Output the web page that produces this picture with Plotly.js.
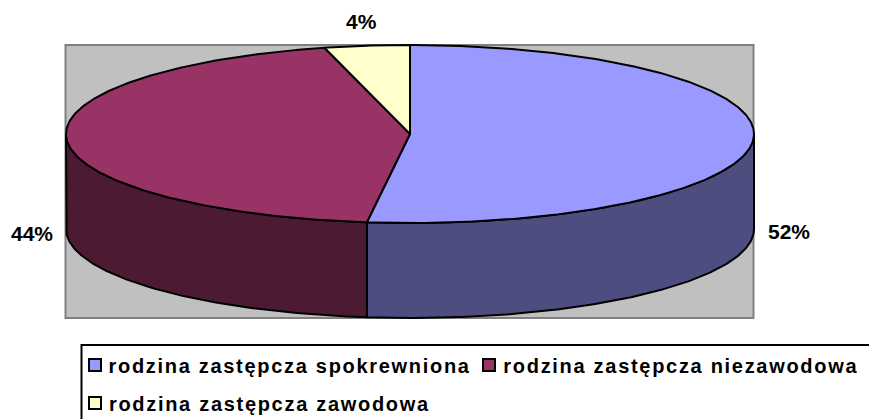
<!DOCTYPE html>
<html><head><meta charset="utf-8">
<script src="https://cdn.plot.ly/plotly-3.0.1.min.js"></script>
<style>html,body{margin:0;padding:0;background:#fff;overflow:hidden}
.annotation[data-index="3"] .annotation-text,.annotation[data-index="4"] .annotation-text,.annotation[data-index="5"] .annotation-text{letter-spacing:1.7px}
</style></head><body><div id="c" style="width:869px;height:419px"></div>
<script>
const categories=["rodzina zastępcza spokrewniona","rodzina zastępcza niezawodowa","rodzina zastępcza zawodowa"];
const values=[52,44,4];
const topColors=["#9999FF","#993366","#FFFFCC"];
const wallColors=["#4D4D80","#4D1A33","#80806A"];
const percentLabels=["52%","44%","4%"];
const labelX=[789,32,361];
const labelY=[231,233,21];
const swatchX=[89,483,89];
const swatchY=[365,365,403];
const legendTextX=[290,681,269.5];
const legendTextY=[366,366,404];
const cx=410,cy=134,rx=344,ry=89,depth=95;
const total=values.reduce((a,b)=>a+b,0);
const px=t=>cx+rx*Math.sin(t), py=t=>cy-ry*Math.cos(t);
const traces=[];
function arc(a,b,dy){const xs=[],ys=[],n=Math.max(2,Math.ceil(Math.abs(b-a)/0.01));
  for(let i=0;i<=n;i++){const t=a+(b-a)*i/n;xs.push(px(t));ys.push(py(t)+dy);}return [xs,ys];}
let acc=0;const spans=values.map(v=>{const s=[acc/total*2*Math.PI,(acc+v)/total*2*Math.PI];acc+=v;return s;});
const line={color:"#000",width:2};
spans.forEach((s,i)=>{const a=Math.max(s[0],Math.PI/2),b=Math.min(s[1],Math.PI*1.5);
  if(b<=a)return;const t=arc(a,b,0),u=arc(b,a,depth);
  traces.push({x:t[0].concat(u[0],[t[0][0]]),y:t[1].concat(u[1],[t[1][0]]),mode:"lines",fill:"toself",fillcolor:wallColors[i],line,name:categories[i]+" (bok)",hoverinfo:"skip",showlegend:false});});
spans.forEach((s,i)=>{const t=arc(s[0],s[1],0);
  traces.push({x:[cx].concat(t[0],[cx]),y:[cy].concat(t[1],[cy]),mode:"lines",fill:"toself",fillcolor:topColors[i],line,name:categories[i],text:percentLabels[i],hoverinfo:"name+text",showlegend:false});});
const shapes=[{type:"rect",xref:"x",yref:"y",x0:65.5,x1:753.5,y0:45,y1:318,fillcolor:"#C0C0C0",line:{color:"#808080",width:2},layer:"below"},
 {type:"rect",xref:"x",yref:"y",x0:81.5,x1:880,y0:345,y1:440,fillcolor:"#fff",line:{color:"#000",width:2},layer:"below"}];
const annotations=[];
percentLabels.forEach((p,i)=>annotations.push({x:labelX[i],y:labelY[i],xref:"x",yref:"y",text:"<b>"+p+"</b>",showarrow:false,font:{family:"Liberation Sans",size:21,color:"#000"}}));
categories.forEach((c,i)=>{
 shapes.push({type:"rect",xref:"x",yref:"y",x0:swatchX[i],x1:swatchX[i]+12,y0:swatchY[i]-6,y1:swatchY[i]+6,fillcolor:topColors[i],line:{color:"#000",width:2}});
 annotations.push({x:legendTextX[i],y:legendTextY[i],xref:"x",yref:"y",xanchor:"center",text:"<b>"+c+"</b>",showarrow:false,font:{family:"Liberation Sans",size:20,color:"#000"}});
});
Plotly.newPlot("c",traces,{width:869,height:419,margin:{l:0,r:0,t:0,b:0},paper_bgcolor:"#fff",plot_bgcolor:"rgba(0,0,0,0)",showlegend:false,
 xaxis:{range:[0,869],visible:false,fixedrange:true},yaxis:{range:[419,0],visible:false,fixedrange:true},shapes,annotations},{staticPlot:true});
</script></body></html>
